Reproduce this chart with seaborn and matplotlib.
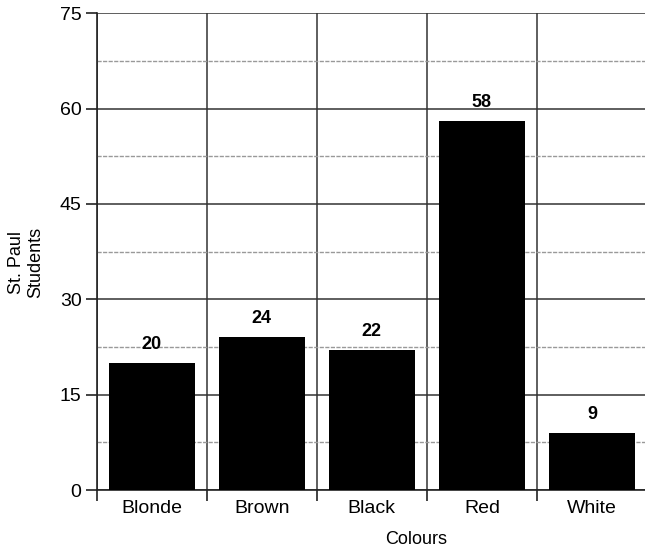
import matplotlib
matplotlib.use("Agg")
import matplotlib.pyplot as plt
import seaborn as sns
import pandas as pd
import numpy as np

categories = ["Blonde", "Brown", "Black", "Red", "White"]
values = [20, 24, 22, 58, 9]
y_ticks = [0, 15, 30, 45, 60, 75]

sns.set_style("white")
plt.rcParams['font.family'] = ['Liberation Sans', 'DejaVu Sans']
plt.rcParams['text.color'] = 'black'
plt.rcParams['axes.labelcolor'] = 'black'
plt.rcParams['xtick.color'] = 'black'
plt.rcParams['ytick.color'] = 'black'

df = pd.DataFrame({"Colours": categories, "Students": values})

fig = plt.figure(figsize=(6.45, 5.5), dpi=100)
ax = fig.add_axes([0.150, 0.109, 0.853, 0.867])

sns.barplot(data=df, x="Colours", y="Students", color="black", width=0.78,
            saturation=1, edgecolor="black", linewidth=0, ax=ax, zorder=3)

ax.set_ylim(0, 75)
ax.set_xlim(-0.5, len(categories) - 0.5)
ax.set_yticks(y_ticks)
ax.set_yticks(np.arange(7.5, 75, 15), minor=True)
ax.set_xticks(np.arange(-0.5, len(categories), 1.0), minor=True)

ax.grid(which="major", axis="y", color="#333333", linewidth=1.1, zorder=0)
ax.grid(which="minor", axis="y", color="#999999", linewidth=1.0, linestyle=(0, (3, 1)), zorder=0)
ax.grid(which="minor", axis="x", color="#333333", linewidth=1.1, zorder=0)
ax.set_axisbelow(True)

for s in ["top", "right"]:
    ax.spines[s].set_visible(False)
for s in ["left", "bottom"]:
    ax.spines[s].set_color("#222222")
    ax.spines[s].set_linewidth(1.2)

ax.tick_params(axis="x", which="major", bottom=False, length=0, labelsize=14, pad=7)
ax.tick_params(axis="x", which="minor", bottom=True, length=8, width=1.2, color="#222222", direction="out")
ax.tick_params(axis="y", which="major", left=True, length=8, width=1.2, color="#222222", labelsize=14, pad=3)
ax.tick_params(axis="y", which="minor", left=False, length=0)

for i, v in enumerate(values):
    ax.text(i, v + 1.6, str(v), ha="center", va="bottom", fontsize=13, fontweight="bold")

ax.set_xlabel("Colours", fontsize=13)
ax.set_ylabel("St. Paul\nStudents", fontsize=13)
ax.xaxis.set_label_coords(0.58, -0.085)
ax.yaxis.set_label_coords(-0.095, 0.478)

fig.savefig("out.png", dpi=100)
